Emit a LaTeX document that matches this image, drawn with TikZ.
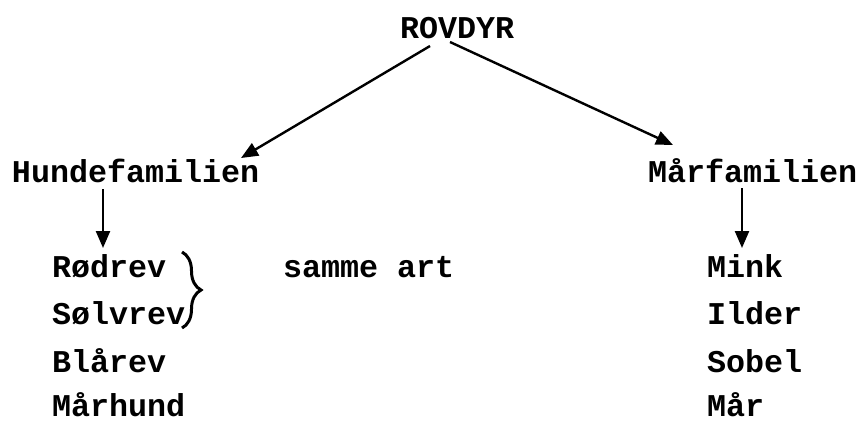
\documentclass[tikz,border=0pt]{standalone}
\usepackage{fontspec}
\setmonofont{Liberation Mono}
\usetikzlibrary{arrows.meta,calc,decorations.pathreplacing}
\begin{document}
\begin{tikzpicture}[x=1pt,y=-1pt,
  lbl/.style={inner sep=0pt, outer sep=0pt, anchor=base west,
    font=\fontsize{31.7}{38}\selectfont\ttfamily\bfseries},
  conn/.style={line width=2.4pt, -{Triangle[length=17pt,width=14pt]}},
  bracestyle/.style={line width=3pt, decorate, decoration={brace, amplitude=19pt, aspect=0.5}},
]
\useasboundingbox (0,0) rectangle (859,421);
\node[lbl] (rov)  at (400,38)  {ROVDYR};
\node[lbl] (hund) at (12,182)  {Hundefamilien};
\node[lbl] (marf) at (648,182) {Mårfamilien};
\node[lbl] (rod)  at (52,277)  {Rødrev};
\node[lbl] (solv) at (52,324)  {Sølvrev};
\node[lbl] (bla)  at (52,372)  {Blårev};
\node[lbl] (marh) at (52,416)  {Mårhund};
\node[lbl] (art)  at (283,277) {samme art};
\node[lbl] (mink) at (707,277) {Mink};
\node[lbl] (ild)  at (707,324) {Ilder};
\node[lbl] (sob)  at (707,372) {Sobel};
\node[lbl] (mar)  at (707,416) {Mår};
\draw[conn] ($(rov.base west)+(30,8)$) -- ($(hund.base west)+(229,-24)$);
\draw[conn] ($(rov.base west)+(50,4)$) -- ($(marf.base west)+(25,-37)$);
\draw[conn] ($(hund.base west)+(91,7)$) -- ($(rod.base west)+(51,-29)$);
\draw[conn] ($(marf.base west)+(94,6)$) -- ($(mink.base west)+(35,-29)$);
\draw[bracestyle] ($(rod.base west)+(130,-25)$) -- ($(solv.base west)+(130,4)$);
\end{tikzpicture}
\end{document}
